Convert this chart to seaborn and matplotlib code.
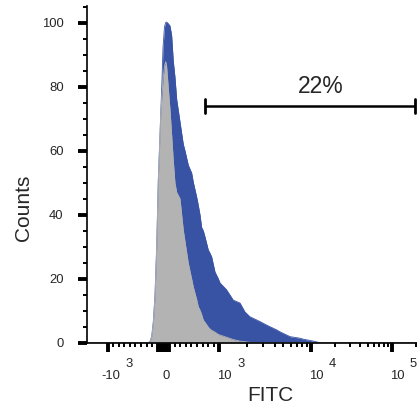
import numpy as np
import pandas as pd
import matplotlib
matplotlib.use("Agg")
import matplotlib.pyplot as plt
import matplotlib.transforms as mtransforms
from matplotlib.ticker import FixedLocator, MultipleLocator, NullFormatter
import seaborn as sns

# ---------------- data ----------------
fitc = [-1600, -277, -241, -211, -182, -152, -121, -93, -71, -50, -27, -9, 18, 39, 54, 80,
        116, 146, 175, 205, 236, 295, 354, 384, 443, 504, 532, 593, 621, 652,
        682, 711, 741, 800, 830, 861, 920, 979, 1013, 1198, 1415, 1675, 1900,
        2154, 2551, 2772, 3280, 3563, 4219, 4584, 5425, 5895, 7584, 8236,
        10676, 12915, 250000]
sample_counts = [0, 0, 0.3, 1.9, 6.5, 14.9, 30.5, 50.8, 61, 71.2, 82, 92, 98.7, 100, 100.2, 99.8,
                 99, 96, 88, 83, 76, 69, 62, 60, 55.5, 53, 50.2, 45.5, 43, 40,
                 36, 35, 33.1, 29, 28, 26.8, 22.1, 20, 18.7, 16.5, 13.3, 12.4, 9.6,
                 8.1, 7.1, 6.6, 5.5, 5.0, 4.0, 3.4, 2.4, 1.9, 1.4, 1.1,
                 0.5, 0, 0]
control_counts = [0, 0, 0.3, 1.9, 6.2, 14.3, 30, 50.8, 61, 71, 77.5, 82, 86.5, 87.8, 86.8, 81,
                  73, 65, 57, 50, 47, 45, 35.2, 31.7, 24.9, 19.9, 17.5, 13.5, 11.3, 10.2,
                  8.8, 7.1, 6.4, 4.9, 4.3, 3.9, 3.3, 2.6, 2.4, 1.7, 1.0, 0.5, 0.3,
                  0.1, 0, 0, 0, 0, 0, 0, 0, 0, 0, 0,
                  0, 0, 0]

x_tick_values = [-1000, 0, 1000, 10000, 100000]
x_tick_bases = ["-10", "0", "10", "10", "10"]
x_tick_exps = ["3", "", "3", "4", "5"]
y_tick_values = [0, 20, 40, 60, 80, 100]

gate_low, gate_high = 736, 195000
gate_level = 74
gate_label = "22%"
gate_label_x, gate_label_y = 13300, 78.1

BLUE = "#3953A4"
GRAY = "#B3B3B3"

# ---------------- biexponential-like display scale ----------------
LIN = 1000.0
W_LIN = 0.691
D1 = 1.130


def forward(x):
    x = np.asarray(x, dtype=float)
    a = np.abs(x)
    s = np.sign(x)
    la = np.log10(np.maximum(a, 1e-12))
    v = np.where(a <= LIN, a / LIN * W_LIN,
                 np.where(a <= 1e4, W_LIN + (la - 3) * D1,
                          W_LIN + D1 + (la - 4)))
    return s * v


def inverse(v):
    v = np.asarray(v, dtype=float)
    a = np.clip(np.abs(v), 0, 8)
    s = np.sign(v)
    x = np.where(a <= W_LIN, a / W_LIN * LIN,
                 np.where(a <= W_LIN + D1, 10 ** (3 + (a - W_LIN) / D1),
                          10 ** (4 + a - W_LIN - D1)))
    return s * x


sns.set_style("ticks")
plt.rcParams['font.family'] = ['Liberation Sans', 'DejaVu Sans']

DPI = 100
fig = plt.figure(figsize=(4.17, 4.13), dpi=DPI)
ax = fig.add_axes([87 / 417, 70.3 / 413, 338.9 / 417, 337 / 413])
ax.set_xscale('function', functions=(forward, inverse))

df = pd.DataFrame({
    "FITC": fitc * 2,
    "Counts": sample_counts + control_counts,
    "sample": ["stained"] * len(fitc) + ["control"] * len(fitc),
})

ax.fill_between(fitc, sample_counts, 0, color=BLUE, lw=0, zorder=1)
sns.lineplot(data=df[df["sample"] == "stained"], x="FITC", y="Counts", color=BLUE,
             lw=0.6, ax=ax, zorder=1.1, legend=False, estimator=None, sort=False)
ax.fill_between(fitc, control_counts, 0, color=GRAY, lw=0, zorder=2)
sns.lineplot(data=df[df["sample"] == "control"], x="FITC", y="Counts", color=GRAY,
             lw=0.6, ax=ax, zorder=2.1, legend=False, estimator=None, sort=False)

ax.set_xlim(-1675, 262144)
ax.set_ylim(0, 105.3)
ax.set_xlabel("")
ax.set_ylabel("")

# ticks
major_x = [-1000, -100, -50, 0, 50, 100, 1000, 10000, 100000]
minor_x = [v for v in range(-900, 1000, 100) if abs(v) > 100]
minor_x += [m * 10 ** e for e in (3, 4) for m in range(2, 10)] + [200000]
ax.xaxis.set_major_locator(FixedLocator(major_x))
ax.xaxis.set_minor_locator(FixedLocator(minor_x))
ax.xaxis.set_major_formatter(NullFormatter())
ax.xaxis.set_minor_formatter(NullFormatter())
ax.yaxis.set_major_locator(FixedLocator(y_tick_values))
ax.yaxis.set_minor_locator(MultipleLocator(5))

ax.tick_params(axis='both', which='major', direction='out', length=6.5, width=2.8,
               color='black')
ax.tick_params(axis='both', which='minor', direction='out', length=2.6, width=1.4,
               color='black')
ax.tick_params(axis='y', which='major', labelsize=9.4, pad=10.3)

sns.despine(ax=ax)
for sp in ("left", "bottom"):
    ax.spines[sp].set_linewidth(1.2)
    ax.spines[sp].set_color("black")

# x tick labels with raised exponents
blend = mtransforms.blended_transform_factory(ax.transData, ax.transAxes)
for v, base, ex in zip(x_tick_values, x_tick_bases, x_tick_exps):
    if ex:
        tb = mtransforms.offset_copy(blend, fig=fig, x=12.5, y=-36.3, units='dots')
        ax.text(v, 0, base, transform=tb, ha='right', va='baseline', fontsize=9.4)
        te = mtransforms.offset_copy(blend, fig=fig, x=18, y=-24.3, units='dots')
        ax.text(v, 0, ex, transform=te, ha='left', va='baseline', fontsize=9.4)
    else:
        tb = mtransforms.offset_copy(blend, fig=fig, x=2.5, y=-36.3, units='dots')
        ax.text(v, 0, base, transform=tb, ha='center', va='baseline', fontsize=9.4)

# gate bracket
ax.plot([gate_low, gate_high], [gate_level, gate_level], color='black', lw=1.8,
        solid_capstyle='butt', zorder=5, clip_on=False)
for gx in (gate_low, gate_high):
    ax.plot([gx, gx], [gate_level - 2.3, gate_level + 2.3], color='black', lw=2.0,
            solid_capstyle='round', zorder=5, clip_on=False)
ax.text(gate_label_x, gate_label_y, gate_label, ha='center', va='baseline',
        fontsize=16.5, zorder=6)

fig.text(270 / 417, 1 - 395.5 / 413, "FITC", ha='center', va='center', fontsize=15)
fig.text(23 / 417, 1 - 208 / 413, "Counts", ha='center', va='center', fontsize=15,
         rotation=90)

fig.savefig("out.png", dpi=DPI)
